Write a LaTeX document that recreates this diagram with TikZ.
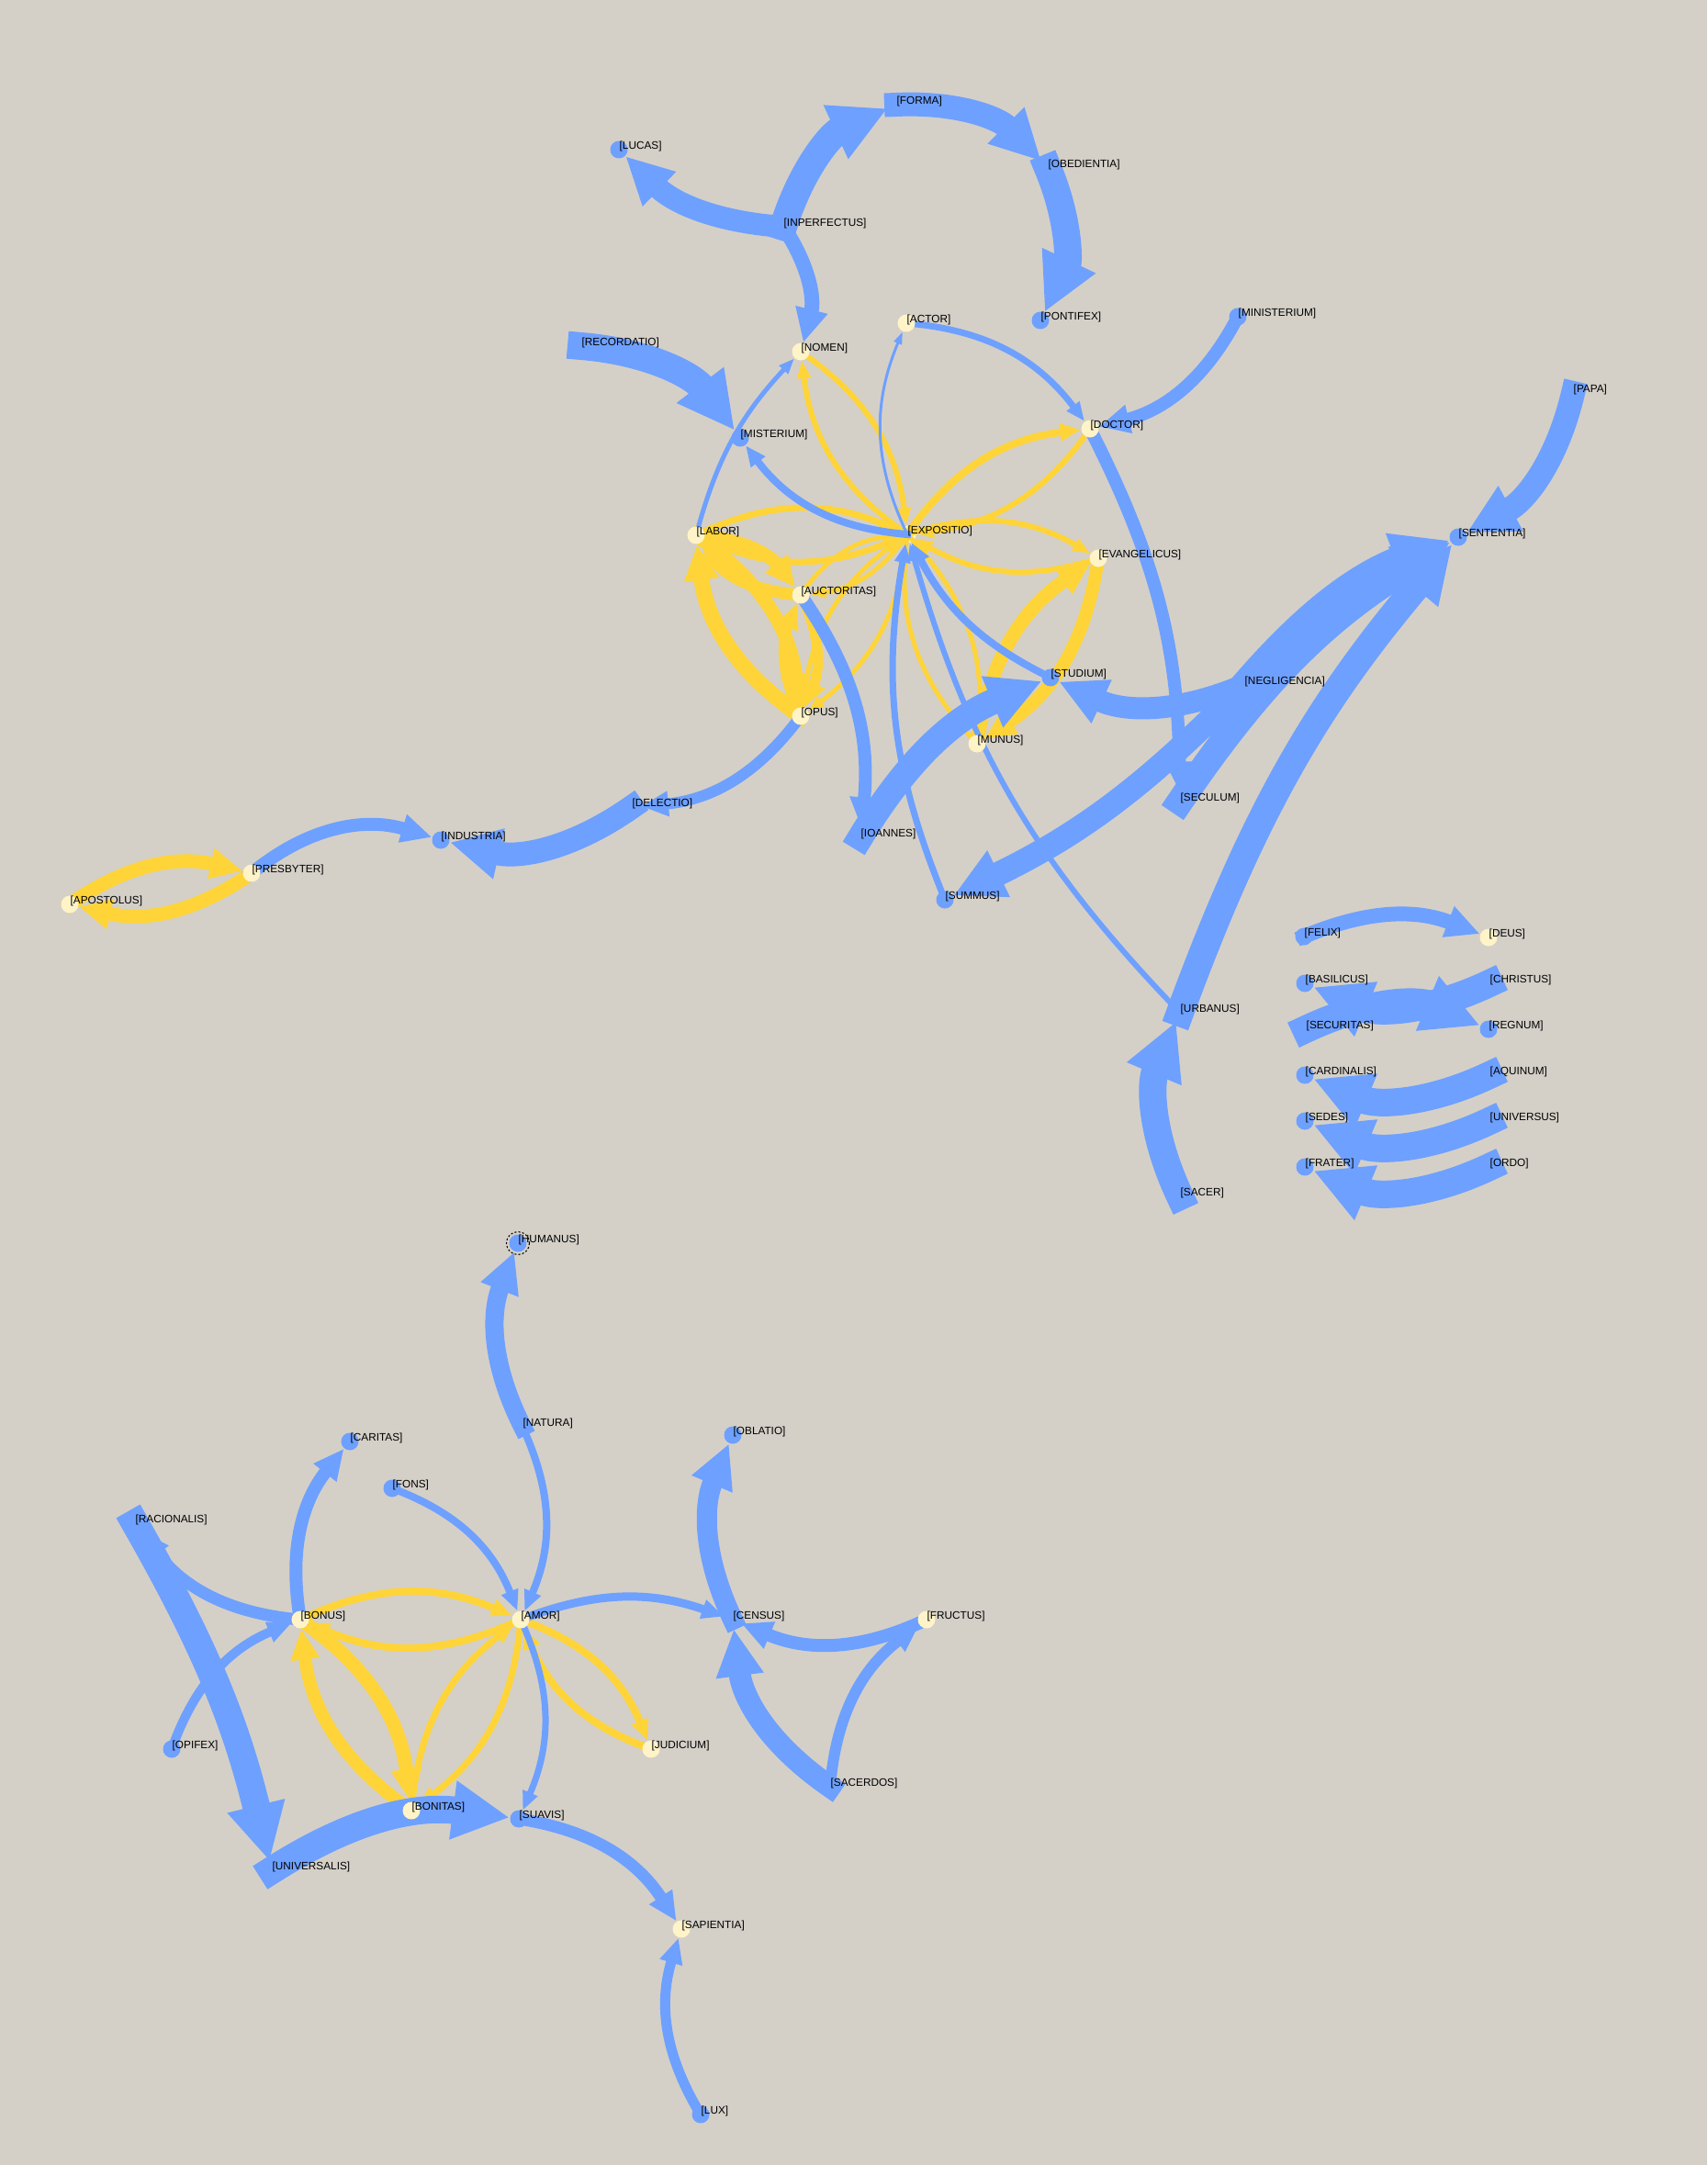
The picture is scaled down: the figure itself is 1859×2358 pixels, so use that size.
\documentclass[tikz,border=0pt]{standalone}
\usepackage{fontspec}
\setmainfont{Liberation Sans}
\usetikzlibrary{arrows.meta}
\definecolor{bgc}{RGB}{212,208,200}
\definecolor{eb}{RGB}{110,160,255}
\definecolor{ey}{RGB}{255,212,56}
\definecolor{ny}{RGB}{255,243,200}
\pgfdeclarelayer{hid}
\pgfdeclarelayer{edg}
\pgfsetlayers{hid,edg,main}
\tikzset{
  dotb/.style={circle,fill=eb,inner sep=0pt,minimum size=0.19cm},
  doty/.style={circle,fill=ny,inner sep=0pt,minimum size=0.19cm},
  lbl/.style={anchor=west,inner sep=0pt,yshift=1.1pt,font=\fontsize{3.35pt}{4pt}\selectfont,text=black},
  eB/.style={draw=eb,line width=#1*0.01cm,line cap=rect,-{Triangle[length=2.3pt 1.8,width=0.85pt 1.9]}},
  eY/.style={draw=ey,line width=#1*0.01cm,line cap=rect,-{Triangle[length=2.3pt 1.8,width=0.85pt 1.9]}},
  bl/.style={bend left=#1},
  bl/.default=24
}
\newcommand\visnode[5]{\node[#1] (#2) at (#3,#4) {};\node[lbl] (#2-t) at (#3,#4) {[#2]};}
\newcommand\hidnode[5]{\begin{pgfonlayer}{hid}\node[#1] (#2) at (#3,#4) {};\end{pgfonlayer}\node[lbl] (#2-t) at (#3,#4) {[#2]};}
\begin{document}
\begin{tikzpicture}[x=0.01cm,y=-0.01cm]
\begin{pgfonlayer}{hid}
\fill[bgc] (0,0) rectangle (1859,2358);
\end{pgfonlayer}
\useasboundingbox (0,0) rectangle (1859,2358);
% visible blue
\visnode{dotb}{LUCAS}{674}{163}{}
\visnode{dotb}{PONTIFEX}{1133}{349}{}
\visnode{dotb}{MISTERIUM}{806}{477}{}
\visnode{dotb}{MINISTERIUM}{1348}{345}{}
\visnode{dotb}{SENTENTIA}{1588}{585}{}
\visnode{dotb}{STUDIUM}{1144}{738}{}
\visnode{dotb}{INDUSTRIA}{480}{915}{}
\visnode{dotb}{SUMMUS}{1029}{980}{}
\visnode{dotb}{FELIX}{1420}{1020}{}
\visnode{dotb}{BASILICUS}{1421}{1071}{}
\visnode{dotb}{REGNUM}{1621}{1121}{}
\visnode{dotb}{CARDINALIS}{1421}{1171}{}
\visnode{dotb}{SEDES}{1421}{1221}{}
\visnode{dotb}{FRATER}{1421}{1271}{}
\visnode{dotb}{HUMANUS}{564}{1354}{}
\visnode{dotb}{CARITAS}{381}{1570}{}
\visnode{dotb}{OBLATIO}{798}{1563}{}
\visnode{dotb}{FONS}{427}{1621}{}
\visnode{dotb}{OPIFEX}{187}{1905}{}
\visnode{dotb}{SUAVIS}{565}{1981}{}
\visnode{dotb}{LUX}{763}{2303}{}
% visible yellow
\visnode{doty}{ACTOR}{987}{352}{}
\visnode{doty}{NOMEN}{872}{383}{}
\visnode{doty}{DOCTOR}{1187}{467}{}
\visnode{doty}{LABOR}{758}{583}{}
\visnode{doty}{EVANGELICUS}{1196}{608}{}
\visnode{doty}{AUCTORITAS}{872}{648}{}
\visnode{doty}{OPUS}{872}{780}{}
\visnode{doty}{MUNUS}{1064}{810}{}
\visnode{doty}{PRESBYTER}{274}{951}{}
\visnode{doty}{APOSTOLUS}{76}{985}{}
\visnode{doty}{DEUS}{1621}{1021}{}
\visnode{doty}{BONUS}{327}{1764}{}
\visnode{doty}{AMOR}{567}{1764}{}
\visnode{doty}{FRUCTUS}{1009}{1764}{}
\visnode{doty}{JUDICIUM}{709}{1905}{}
\visnode{doty}{BONITAS}{448}{1972}{}
\visnode{doty}{SAPIENTIA}{742}{2101}{}
% hidden
\hidnode{dotb}{FORMA}{976}{114}{}
\hidnode{dotb}{INPERFECTUS}{853}{247}{}
\hidnode{dotb}{OBEDIENTIA}{1141}{183}{}
\hidnode{dotb}{RECORDATIO}{633}{377}{}
\hidnode{dotb}{PAPA}{1713}{428}{}
\hidnode{doty}{EXPOSITIO}{988}{582}{}
\hidnode{dotb}{NEGLIGENCIA}{1355}{746}{}
\hidnode{dotb}{SECULUM}{1285}{873}{}
\hidnode{dotb}{DELECTIO}{688}{879}{}
\hidnode{dotb}{IOANNES}{937}{912}{}
\hidnode{dotb}{CHRISTUS}{1622}{1071}{}
\hidnode{dotb}{URBANUS}{1285}{1103}{}
\hidnode{dotb}{SECURITAS}{1422}{1121}{}
\hidnode{dotb}{AQUINUM}{1622}{1171}{}
\hidnode{dotb}{UNIVERSUS}{1622}{1221}{}
\hidnode{dotb}{ORDO}{1622}{1271}{}
\hidnode{dotb}{SACER}{1285}{1303}{}
\hidnode{dotb}{NATURA}{569}{1554}{}
\hidnode{dotb}{RACIONALIS}{147}{1659}{}
\hidnode{dotb}{CENSUS}{798}{1764}{}
\hidnode{dotb}{SACERDOS}{904}{1946}{}
\hidnode{dotb}{UNIVERSALIS}{296}{2037}{}
\node[circle,draw=black,dash pattern=on 0.6pt off 0.6pt,line width=0.3pt,minimum size=0.25cm,inner sep=0pt] (HUMANUSsel) at (HUMANUS) {};
\begin{pgfonlayer}{edg}
% yellow
\draw[eY=6] (EXPOSITIO.center) to[bl] (NOMEN);
\draw[eY=6] (NOMEN.center) to[bl] (EXPOSITIO);
\draw[eY=8] (EXPOSITIO.center) to[bl] (DOCTOR);
\draw[eY=6] (DOCTOR.center) to[bl] (EXPOSITIO);
\draw[eY=6] (EXPOSITIO.center) to[bl] (EVANGELICUS);
\draw[eY=6] (EVANGELICUS.center) to[bl] (EXPOSITIO);
\draw[eY=7] (EXPOSITIO.center) to[bl] (LABOR);
\draw[eY=7] (LABOR.center) to[bl] (EXPOSITIO);
\draw[eY=5] (EXPOSITIO.center) to[bl] (AUCTORITAS);
\draw[eY=5] (AUCTORITAS.center) to[bl] (EXPOSITIO);
\draw[eY=5] (EXPOSITIO.center) to[bl] (OPUS);
\draw[eY=5] (OPUS.center) to[bl] (EXPOSITIO);
\draw[eY=5] (EXPOSITIO.center) to[bl] (MUNUS);
\draw[eY=5] (MUNUS.center) to[bl] (EXPOSITIO);
\draw[eY=14] (LABOR.center) to[bl] (AUCTORITAS);
\draw[eY=13] (AUCTORITAS.center) to[bl] (LABOR);
\draw[eY=15] (LABOR.center) to[bl] (OPUS);
\draw[eY=17] (OPUS.center) to[bl] (LABOR);
\draw[eY=11] (AUCTORITAS.center) to[bl] (OPUS);
\draw[eY=11] (OPUS.center) to[bl] (AUCTORITAS);
\draw[eY=15] (MUNUS.center) to[bl] (EVANGELICUS);
\draw[eY=14] (EVANGELICUS.center) to[bl] (MUNUS);
\draw[eY=15] (APOSTOLUS.center) to[bl] (PRESBYTER);
\draw[eY=15] (PRESBYTER.center) to[bl] (APOSTOLUS);
\draw[eY=8] (BONUS.center) to[bl] (AMOR);
\draw[eY=8] (AMOR.center) to[bl] (BONUS);
\draw[eY=15] (BONUS.center) to[bl] (BONITAS);
\draw[eY=14] (BONITAS.center) to[bl] (BONUS);
\draw[eY=7] (AMOR.center) to[bl] (BONITAS);
\draw[eY=7] (BONITAS.center) to[bl] (AMOR);
\draw[eY=8] (AMOR.center) to[bl] (JUDICIUM);
\draw[eY=8] (JUDICIUM.center) to[bl] (AMOR);
% blue
\draw[eB=3] (EXPOSITIO.center) to[bl] (ACTOR);
\draw[eB=5] (LABOR.center) to[bl=14] (NOMEN);
\draw[eB=6] (URBANUS.center) to[bl=14] (EXPOSITIO);
\draw[eB=7] (SUMMUS.center) to[bl=16] (EXPOSITIO);
\draw[eB=7] (ACTOR.center) to[bl] (DOCTOR);
\draw[eB=7] (AMOR.center) to[bl] (SUAVIS);
\draw[eB=8] (EXPOSITIO.center) to[bl] (MISTERIUM);
\draw[eB=8] (STUDIUM.center) to[bl=18] (EXPOSITIO);
\draw[eB=8] (NATURA.center) to[bl] (AMOR);
\draw[eB=8] (FONS.center) to[bl] (AMOR);
\draw[eB=9] (AMOR.center) to[bl=20] (CENSUS);
\draw[eB=10] (OPIFEX.center) to[bl] (BONUS);
\draw[eB=11] (LUX.center) to[bl] (SAPIENTIA);
\draw[eB=12] (OPUS.center) to[bl] (DELECTIO);
\draw[eB=12] (SACERDOS.center) to[bl] (FRUCTUS);
\draw[eB=13] (BONUS.center) to[bl] (RACIONALIS);
\draw[eB=13] (SUAVIS.center) to[bl] (SAPIENTIA);
\draw[eB=14] (MINISTERIUM.center) to[bl] (DOCTOR);
\draw[eB=14] (DOCTOR.center) to[bl=13] (SECULUM);
\draw[eB=14] (AUCTORITAS.center) to[bl=20] (IOANNES);
\draw[eB=14] (PRESBYTER.center) to[bl=28] (INDUSTRIA);
\draw[eB=14] (BONUS.center) to[bl] (CARITAS);
\draw[eB=14] (FRUCTUS.center) to[bl] (CENSUS);
\draw[eB=16] (INPERFECTUS.center) to[bl] (NOMEN);
\draw[eB=16] (FELIX.center) to[bl=22] (DEUS);
\draw[eB=20] (NATURA.center) to[bl] (HUMANUS);
\draw[eB=22] (CENSUS.center) to[bl] (OBLATIO);
\draw[eB=24] (SACERDOS.center) to[bl] (CENSUS);
\draw[eB=24] (INPERFECTUS.center) to[bl=20] (LUCAS);
\draw[eB=24] (NEGLIGENCIA.center) to[bl] (STUDIUM);
\draw[eB=26] (FORMA.center) to[bl] (OBEDIENTIA);
\draw[eB=26] (PAPA.center) to[bl] (SENTENTIA);
\draw[eB=26] (NEGLIGENCIA.center) to[bl=10] (SUMMUS);
\draw[eB=26] (DELECTIO.center) to[bl] (INDUSTRIA);
\draw[eB=28] (IOANNES.center) to[bl=18] (STUDIUM);
\draw[eB=29] (SECULUM.center) to[bl=12] (SENTENTIA);
\draw[eB=30] (NEGLIGENCIA.center) to[bl=14] (SENTENTIA);
\draw[eB=30] (URBANUS.center) to[bl=10] (SENTENTIA);
\draw[eB=30] (SACER.center) to[bl] (URBANUS);
\draw[eB=30] (INPERFECTUS.center) to[bl] (FORMA);
\draw[eB=30] (OBEDIENTIA.center) to[bl] (PONTIFEX);
\draw[eB=30] (RECORDATIO.center) to[bl] (MISTERIUM);
\draw[eB=30] (CHRISTUS.center) to[bl] (BASILICUS);
\draw[eB=30] (SECURITAS.center) to[bl] (REGNUM);
\draw[eB=30] (AQUINUM.center) to[bl] (CARDINALIS);
\draw[eB=30] (UNIVERSUS.center) to[bl] (SEDES);
\draw[eB=30] (ORDO.center) to[bl] (FRATER);
\draw[eB=30] (RACIONALIS.center) to[bl=8] (UNIVERSALIS);
\draw[eB=30] (UNIVERSALIS.center) to[bl=20] (SUAVIS);
\end{pgfonlayer}
\end{tikzpicture}
\end{document}
